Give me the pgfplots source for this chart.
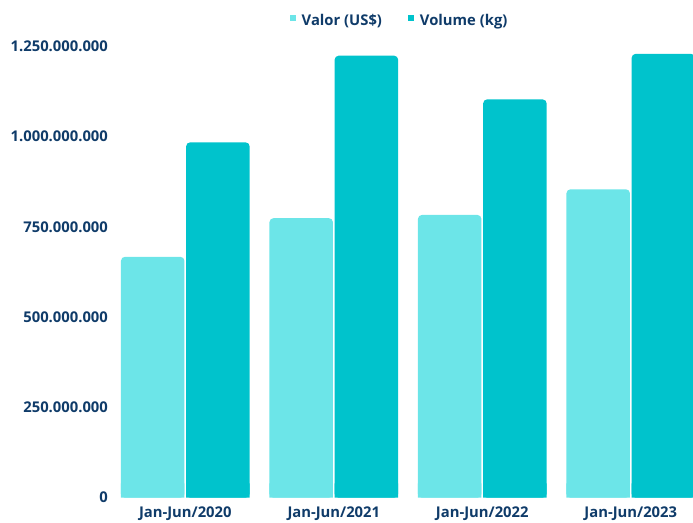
\documentclass[border=0pt]{standalone}
\usepackage{fontspec}
\setmainfont{Open Sans}
\usepackage{pgfplots}
\pgfplotsset{compat=1.18}
\definecolor{valc}{HTML}{6CE5E8}
\definecolor{volc}{HTML}{00C3CC}
\definecolor{txt}{HTML}{0F3B69}
\begin{document}
\begin{tikzpicture}
\useasboundingbox (0,0) rectangle (693pt,522pt);
\begin{axis}[
  at={(111.05pt,24.3pt)}, anchor=south west,
  scale only axis, width=581.95pt, height=451.4pt,
  xmin=-0.5, xmax=3.419, ymin=0, ymax=1.25e9,
  axis line style={draw=none},
  major tick length=0pt,
  xtick={0,1,2,3},
  xticklabels={Jan-Jun/2020,Jan-Jun/2021,Jan-Jun/2022,Jan-Jun/2023},
  ytick={0,2.5e8,5e8,7.5e8,1e9,1.25e9},
  scaled y ticks=false,
  yticklabel style={/pgf/number format/fixed, /pgf/number format/precision=0,
    /pgf/number format/1000 sep={.}, /pgf/number format/assume math mode=true},
  tick label style={font=\fontsize{14.8}{16}\selectfont\bfseries, text=txt},
  yticklabel style={anchor=east, inner sep=0pt, xshift=-3pt},
  xticklabel style={anchor=north, inner sep=0pt, yshift=-9pt},
  ybar, bar width=0.4276,
  legend columns=2,
  legend image code/.code={\fill[#1, draw=none, sharp corners] (0pt,0pt) rectangle (6pt,6pt);},
  legend style={at={(0.494,1.056)}, anchor=center, draw=none, fill=none,
    font=\fontsize{14.8}{16}\selectfont\bfseries, text=txt,
    nodes={inner sep=0pt}, column sep=6pt,
    /tikz/every even column/.append style={column sep=26pt}},
]
\addplot[fill=valc, draw=none, rounded corners=4pt, bar shift=-0.2195]
  coordinates {(0,667e6) (1,774e6) (2,783e6) (3,854e6)};
\addplot[fill=volc, draw=none, rounded corners=4pt, bar shift=0.2195]
  coordinates {(0,984e6) (1,1224e6) (2,1103e6) (3,1229e6)};
\addplot[fill=valc, draw=none, bar shift=-0.2195, forget plot, restrict y to domain*=0:4e7]
  coordinates {(0,667e6) (1,774e6) (2,783e6) (3,854e6)};
\addplot[fill=volc, draw=none, bar shift=0.2195, forget plot, restrict y to domain*=0:4e7]
  coordinates {(0,984e6) (1,1224e6) (2,1103e6) (3,1229e6)};
\legend{Valor (US\$),Volume (kg)}
\end{axis}
\end{tikzpicture}
\end{document}
